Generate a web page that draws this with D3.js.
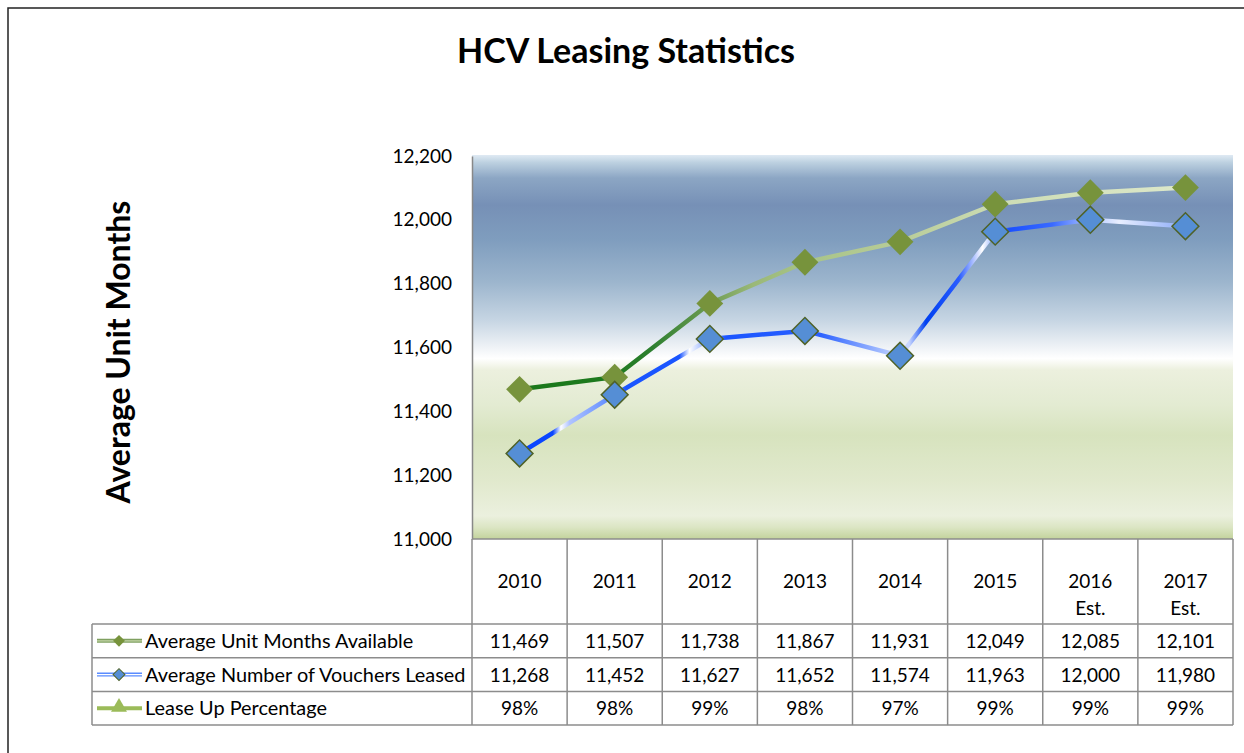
<!DOCTYPE html>
<html>
<head>
<meta charset="utf-8">
<script src="https://cdnjs.cloudflare.com/ajax/libs/d3/7.8.5/d3.min.js"></script>
<style>
  body { margin: 0; background: #fff; }
  svg text { font-family: Lato, "Liberation Sans", sans-serif; fill: #000; }
</style>
</head>
<body>
<svg id="chart"></svg>
<script>
var years = ["2010", "2011", "2012", "2013", "2014", "2015", "2016", "2017"];
var yearNotes = ["", "", "", "", "", "", "Est.", "Est."];
var unitMonths = [11469, 11507, 11738, 11867, 11931, 12049, 12085, 12101];
var vouchers = [11268, 11452, 11627, 11652, 11574, 11963, 12000, 11980];
var leaseUp = [98, 98, 99, 98, 97, 99, 99, 99];
var yTicks = [11000, 11200, 11400, 11600, 11800, 12000, 12200];
var seriesNames = ["Average Unit Months Available", "Average Number of Vouchers Leased", "Lease Up Percentage"];

var width = 1244;
var height = 753;

var svg = d3.select('#chart')
    .attr('width', width)
    .attr('height', height);

var plot = {left: 472, right: 1233, top: 155, bottom: 539};
var table = {left: 92, headBottom: 624, rowH: 33.7};

var x = d3.scaleBand()
    .domain(years)
    .range([plot.left, plot.right])
    .padding(0);

var y = d3.scaleLinear()
    .domain([11000, 12200])
    .range([plot.bottom, plot.top + 1]);

var defs = svg.append('defs');

// plot area background (blue sky into pale green)
var bg = defs.append('linearGradient')
    .attr('id', 'bg').attr('x1', 0).attr('x2', 0).attr('y1', 0).attr('y2', 1);
[[0, '#dfeaf3'], [0.02, '#bcd0e0'], [0.06, '#8ca6c4'], [0.13, '#7690b6'], [0.22, '#7f9dbe'],
 [0.33, '#9cb5cd'], [0.43, '#c6d5e3'], [0.5, '#eef2f6'], [0.53, '#ffffff'], [0.56, '#ecf0de'],
 [0.65, '#e3ebd2'], [0.73, '#d7e3be'], [0.85, '#e1e9cd'], [0.94, '#ebf0de'], [0.97, '#dbe5c3'],
 [1, '#c3d39c']].forEach(function(s) {
    bg.append('stop').attr('offset', s[0]).attr('stop-color', s[1]);
});

var gx1 = x('2010') + x.bandwidth() / 2;
var gx2 = x('2017') + x.bandwidth() / 2;

var greenGrad = defs.append('linearGradient')
    .attr('id', 'greenLine').attr('gradientUnits', 'userSpaceOnUse')
    .attr('x1', gx1).attr('x2', gx2).attr('y1', 0).attr('y2', 0);
[[0, '#1a781a'], [0.14, '#1e7a1e'], [0.2, '#2e8030'], [0.28, '#6a9a50'], [0.35, '#9ab878'],
 [0.43, '#a8c488'], [0.57, '#b8cc98'], [0.72, '#ccdcb4'], [1, '#dde8ca']].forEach(function(s) {
    greenGrad.append('stop').attr('offset', s[0]).attr('stop-color', s[1]);
});

// the voucher line has a banded blue/white gradient
var blueGrad = defs.append('linearGradient')
    .attr('id', 'blueLine').attr('gradientUnits', 'userSpaceOnUse')
    .attr('x1', gx1).attr('x2', gx2).attr('y1', 0).attr('y2', 0);
[[0, '#0a46ff'], [0.05, '#0a46ff'], [0.062, '#ffffff'], [0.075, '#b0c4ff'], [0.14, '#5a88ff'],
 [0.16, '#1a55ff'], [0.24, '#1a55ff'], [0.255, '#ffffff'], [0.28, '#8aaaff'], [0.31, '#1a55ff'],
 [0.45, '#2a60ff'], [0.56, '#b8ccff'], [0.585, '#c8d6ff'], [0.61, '#0040f0'], [0.66, '#2a5cff'],
 [0.695, '#ffffff'], [0.72, '#6a94ff'], [0.735, '#1a50ff'], [0.8, '#3a6aff'], [0.86, '#b0c6ff'],
 [0.9, '#e8eeff'], [1, '#8aaaf8']].forEach(function(s) {
    blueGrad.append('stop').attr('offset', s[0]).attr('stop-color', s[1]);
});

// outer chart frame (cut off at right and bottom)
svg.append('path')
    .attr('d', 'M8,' + (height + 5) + 'V8H' + (width + 5))
    .attr('fill', 'none')
    .attr('stroke', '#222')
    .attr('stroke-width', 1.5);

svg.append('text')
    .attr('x', 626).attr('y', 63)
    .attr('text-anchor', 'middle')
    .attr('font-size', 34).attr('font-weight', 'bold')
    .text('HCV Leasing Statistics');

svg.append('rect')
    .attr('x', plot.left).attr('y', plot.top)
    .attr('width', plot.right - plot.left).attr('height', plot.bottom - plot.top)
    .attr('fill', 'url(#bg)');

// y axis
var yAxis = svg.append('g')
    .attr('transform', 'translate(' + plot.left + ',0)')
    .call(d3.axisLeft(y).tickValues(yTicks).tickSize(0).tickPadding(20).tickFormat(d3.format(',')));
yAxis.select('.domain').attr('stroke', '#888').attr('stroke-width', 1.5);
yAxis.selectAll('text')
    .attr('font-size', 19)
    .style('font-family', 'Lato, sans-serif')
    .attr('fill', '#000');

svg.append('text')
    .attr('transform', 'translate(130,352) rotate(-90)')
    .attr('text-anchor', 'middle')
    .attr('font-size', 32).attr('font-weight', 'bold')
    .text('Average Unit Months');

// lines
var line = d3.line()
    .x(function(d, i) { return x(years[i]) + x.bandwidth() / 2; })
    .y(function(d) { return y(d); });

svg.append('path')
    .datum(unitMonths)
    .attr('d', line)
    .attr('fill', 'none')
    .attr('stroke', 'url(#greenLine)')
    .attr('stroke-width', 4.5);

svg.append('path')
    .datum(vouchers)
    .attr('d', line)
    .attr('fill', 'none')
    .attr('stroke', 'url(#blueLine)')
    .attr('stroke-width', 4.5);

var diamond = d3.symbol().type(d3.symbolSquare).size(360);

svg.append('g').selectAll('path')
    .data(unitMonths)
    .enter().append('path')
    .attr('d', diamond)
    .attr('transform', function(d, i) {
        return 'translate(' + (x(years[i]) + x.bandwidth() / 2) + ',' + y(d) + ') rotate(45)';
    })
    .attr('fill', '#77933c');

svg.append('g').selectAll('path')
    .data(vouchers)
    .enter().append('path')
    .attr('d', diamond)
    .attr('transform', function(d, i) {
        return 'translate(' + (x(years[i]) + x.bandwidth() / 2) + ',' + y(d) + ') rotate(45)';
    })
    .attr('fill', '#558ed5')
    .attr('stroke', '#4f6228')
    .attr('stroke-width', 1.5);

// data table
var tableG = svg.append('g');
var gridColor = '#8c8c8c';
var rowTop = function(r) { return table.headBottom + r * table.rowH; };
var tableBottom = rowTop(3);

tableG.append('line')
    .attr('x1', plot.left).attr('x2', plot.right)
    .attr('y1', plot.bottom).attr('y2', plot.bottom)
    .attr('stroke', gridColor).attr('stroke-width', 1.5);

years.concat(['end']).forEach(function(yr) {
    var xx = yr === 'end' ? plot.right : x(yr);
    tableG.append('line')
        .attr('x1', xx).attr('x2', xx)
        .attr('y1', plot.bottom).attr('y2', tableBottom)
        .attr('stroke', gridColor).attr('stroke-width', 1.5);
});
[0, 1, 2, 3].forEach(function(r) {
    tableG.append('line')
        .attr('x1', table.left).attr('x2', plot.right)
        .attr('y1', rowTop(r)).attr('y2', rowTop(r))
        .attr('stroke', gridColor).attr('stroke-width', 1.5);
});
tableG.append('line')
    .attr('x1', table.left).attr('x2', table.left)
    .attr('y1', rowTop(0)).attr('y2', tableBottom)
    .attr('stroke', gridColor).attr('stroke-width', 1.5);

// header cells
years.forEach(function(yr, i) {
    var cx = x(yr) + x.bandwidth() / 2;
    tableG.append('text')
        .attr('x', cx).attr('y', 588)
        .attr('text-anchor', 'middle').attr('font-size', 19)
        .text(yr);
    if (yearNotes[i]) {
        tableG.append('text')
            .attr('x', cx).attr('y', 615)
            .attr('text-anchor', 'middle').attr('font-size', 19)
            .text(yearNotes[i]);
    }
});

var rows = [
    unitMonths.map(d3.format(',')),
    vouchers.map(d3.format(',')),
    leaseUp.map(function(d) { return d + '%'; })
];
rows.forEach(function(vals, r) {
    var cy = rowTop(r) + table.rowH / 2 + 7;
    vals.forEach(function(v, i) {
        tableG.append('text')
            .attr('x', x(years[i]) + x.bandwidth() / 2).attr('y', cy)
            .attr('text-anchor', 'middle').attr('font-size', 19)
            .text(v);
    });
    tableG.append('text')
        .attr('x', 145).attr('y', cy)
        .attr('font-size', 19.9)
        .text(seriesNames[r]);
});

// legend keys
var keyX1 = 97, keyX2 = 142, keyMid = 119;
var k0 = rowTop(0) + table.rowH / 2;
tableG.append('line').attr('x1', keyX1).attr('x2', keyX2).attr('y1', k0).attr('y2', k0)
    .attr('stroke', '#7fa060').attr('stroke-width', 4);
tableG.append('line').attr('x1', keyX1).attr('x2', keyX2).attr('y1', k0).attr('y2', k0)
    .attr('stroke', '#c4d6a8').attr('stroke-width', 1.2);
tableG.append('path').attr('d', d3.symbol().type(d3.symbolSquare).size(70))
    .attr('transform', 'translate(' + keyMid + ',' + k0 + ') rotate(45)')
    .attr('fill', '#77933c');

var k1 = rowTop(1) + table.rowH / 2;
tableG.append('line').attr('x1', keyX1).attr('x2', keyX2).attr('y1', k1).attr('y2', k1)
    .attr('stroke', '#5a8cff').attr('stroke-width', 4);
tableG.append('line').attr('x1', keyX1).attr('x2', keyX2).attr('y1', k1).attr('y2', k1)
    .attr('stroke', '#ffffff').attr('stroke-width', 1.2);
tableG.append('path').attr('d', d3.symbol().type(d3.symbolSquare).size(70))
    .attr('transform', 'translate(' + keyMid + ',' + k1 + ') rotate(45)')
    .attr('fill', '#558ed5').attr('stroke', '#4f6228').attr('stroke-width', 1);

var k2 = rowTop(2) + table.rowH / 2;
tableG.append('line').attr('x1', keyX1).attr('x2', keyX2).attr('y1', k2).attr('y2', k2)
    .attr('stroke', '#9bbb59').attr('stroke-width', 4);
tableG.append('path').attr('d', d3.symbol().type(d3.symbolTriangle).size(110))
    .attr('transform', 'translate(' + keyMid + ',' + (k2 - 1) + ')')
    .attr('fill', '#9bbb59');
</script>
</body>
</html>
